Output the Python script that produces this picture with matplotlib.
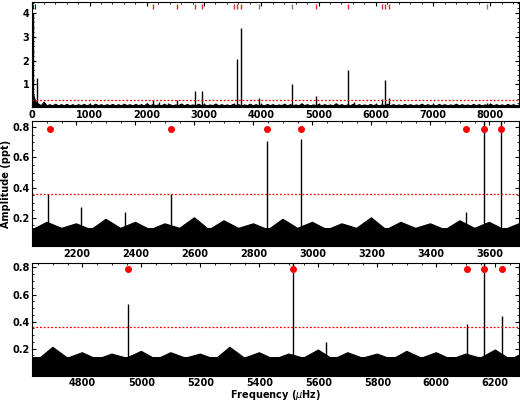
import matplotlib
matplotlib.use("Agg")
import matplotlib.pyplot as plt
import numpy as np

# peaks (freq in uHz, amplitude in ppt)
peak_freq = [15, 80, 2105, 2215, 2365, 2520, 2845, 2960, 3520, 3580, 3640, 3960, 4530, 4955, 5515, 5625, 6105, 6160, 6222, 7950]
peak_amp  = [4.0, 1.25, 0.36, 0.27, 0.24, 0.36, 0.71, 0.72, 0.24, 2.05, 3.35, 0.45, 1.0, 0.53, 1.6, 0.25, 0.38, 1.2, 0.44, 0.2]
mode_freq = [2110, 2520, 2845, 2960, 3520, 3580, 3640, 4955, 5515, 6105, 6160, 6222]
grey_marks = [3960, 4530, 7950]
blue_marks = [10, 45]
threshold = 0.36
noise_base = 0.135
# noise envelope (upper edge of the noise floor), sampled every 50 uHz from 0 to 8500
noise_env = [0.7, 0.3, 0.2, 0.13, 0.28, 0.12, 0.17, 0.12, 0.19, 0.12, 0.17, 0.13, 0.18, 0.12, 0.17, 0.12, 0.17, 0.13, 0.18, 0.12,
             0.17, 0.12, 0.19, 0.13, 0.17, 0.12, 0.17, 0.13, 0.18, 0.12, 0.17, 0.12, 0.19, 0.13, 0.17, 0.12, 0.18, 0.13, 0.17, 0.12,
             0.21, 0.12, 0.17, 0.13, 0.16, 0.12, 0.19, 0.13, 0.17, 0.12, 0.16, 0.13, 0.2, 0.12, 0.18, 0.13, 0.16, 0.12, 0.19, 0.13,
             0.17, 0.12, 0.16, 0.13, 0.2, 0.12, 0.17, 0.13, 0.16, 0.12, 0.18, 0.13, 0.17, 0.12, 0.16, 0.13, 0.19, 0.12, 0.17, 0.13,
             0.16, 0.12, 0.18, 0.13, 0.17, 0.12, 0.16, 0.13, 0.19, 0.12, 0.17, 0.13, 0.16, 0.12, 0.21, 0.13, 0.17, 0.12, 0.16, 0.13,
             0.18, 0.12, 0.17, 0.13, 0.16, 0.12, 0.21, 0.13, 0.17, 0.12, 0.16, 0.13, 0.19, 0.12, 0.17, 0.13, 0.16, 0.12, 0.18, 0.13,
             0.17, 0.12, 0.16, 0.13, 0.19, 0.12, 0.17, 0.13, 0.16, 0.12, 0.18, 0.13, 0.17, 0.12, 0.16, 0.13, 0.19, 0.12, 0.17, 0.13,
             0.16, 0.12, 0.18, 0.13, 0.17, 0.12, 0.16, 0.13, 0.19, 0.12, 0.17, 0.13, 0.16, 0.12, 0.18, 0.13, 0.17, 0.12, 0.16, 0.13,
             0.19, 0.12, 0.17, 0.13, 0.16, 0.12, 0.18, 0.13, 0.17, 0.12, 0.16, 0.13, 0.17, 0.12]
noise_step = 50

fig = plt.figure(figsize=(5.2, 4.04), dpi=100)
axes = [fig.add_axes([0.062, 0.735, 0.936, 0.26]),
        fig.add_axes([0.062, 0.39, 0.936, 0.31]),
        fig.add_axes([0.062, 0.07, 0.936, 0.278])]
xlims = [(0, 8500), (2050, 3700), (4630, 6280)]
ylims = [(0.05, 4.45), (0.01, 0.84), (0.0, 0.83)]
nx = np.arange(len(noise_env)) * noise_step

for i, ax in enumerate(axes):
    ax.fill_between([0, 8500], 0, noise_base, color="black", lw=0)
    ax.fill_between(nx, 0, noise_env, color="black", lw=0.8)
    ax.vlines(peak_freq, 0, peak_amp, color="black", lw=1.0)
    ax.axhline(threshold, color="red", ls=(0, (1.5, 1.5)), lw=0.9)
    ax.set_xlim(*xlims[i]); ax.set_ylim(*ylims[i])
    ax.tick_params(direction="in", top=True, right=True, labelsize=7, length=3, pad=2)
    ax.minorticks_on()
    ax.tick_params(which="minor", direction="in", top=True, right=True, length=1.5)
    if i > 0:
        ax.plot(mode_freq, [0.79] * len(mode_freq), "o", color="red", ms=4, clip_on=False)

a0 = axes[0]
a0.set_yticks([1, 2, 3, 4])
a0.set_xticks(range(0, 9000, 1000))
a0.vlines(mode_freq, 4.15, 4.35, color="#d03030", lw=1.0)
a0.vlines(grey_marks, 4.15, 4.35, color="grey", lw=1.0)
a0.vlines(blue_marks, 4.15, 4.35, color="blue", lw=0.8)
for ax in axes[1:]:
    ax.set_yticks([0.2, 0.4, 0.6, 0.8])
axes[1].set_xticks(range(2200, 3700, 200))
axes[2].set_xticks(range(4800, 6300, 200))
for ax in axes:
    for t in ax.get_xticklabels() + ax.get_yticklabels():
        t.set_fontweight("bold")
axes[1].set_ylabel("Amplitude (ppt)", fontsize=7, fontweight="bold", labelpad=1)
axes[2].set_xlabel("Frequency ($\\mu$Hz)", fontsize=7, fontweight="bold", labelpad=0)
fig.savefig("out.png", dpi=100)
